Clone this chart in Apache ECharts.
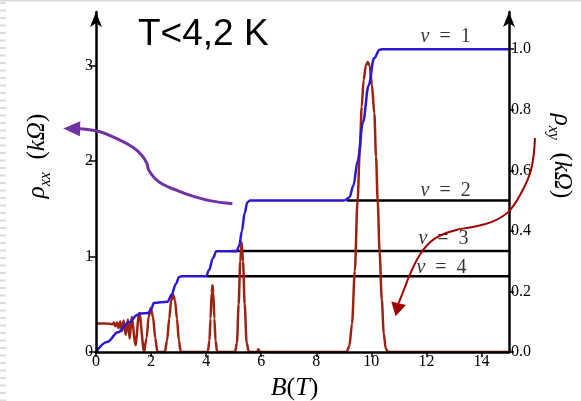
<!DOCTYPE html>
<html>
<head>
<meta charset="utf-8">
<script src="https://cdn.jsdelivr.net/npm/echarts@6/dist/echarts.min.js"></script>
<style>
html, body { margin: 0; padding: 0; background: #fff; }
#main { width: 581px; height: 401px; }
</style>
</head>
<body>
<div id="main"></div>
<script>
// magnetic field B (T) and Hall resistivity rho_xy (kOhm), right axis
const xyField = [0, 0.4, 0.8, 1.2, 1.5, 1.6, 1.9, 2.0, 2.1, 2.6, 2.75, 2.9, 3.02, 3.1, 4.0, 4.1, 4.25, 4.37, 4.5,
  5.1, 5.2, 5.3, 5.4, 5.5, 5.6, 9.0, 9.2, 9.35, 9.5, 9.7, 9.9, 10.1, 10.3, 10.4, 15];
const xyValue = [0, 0.033, 0.065, 0.098, 0.122, 0.127, 0.129, 0.14, 0.162, 0.166, 0.19, 0.225, 0.248, 0.25, 0.25, 0.27, 0.31, 0.333, 0.333,
  0.333, 0.35, 0.40, 0.46, 0.495, 0.5, 0.5, 0.51, 0.55, 0.63, 0.76, 0.88, 0.97, 0.998, 1.0, 1.0];

// longitudinal resistivity rho_xx (kOhm), left axis
const xxField = [0, 0.3, 0.5, 0.6, 0.65, 0.7, 0.76, 0.82, 0.88, 0.94, 1.0, 1.08, 1.16, 1.22, 1.3, 1.43, 1.57, 1.75,
  1.77, 1.84, 1.91, 1.99, 2.07, 2.15, 2.23,
  2.5, 2.58, 2.66, 2.73, 2.8, 2.87, 2.94, 3.01, 3.08,
  4.06, 4.12, 4.16, 4.2, 4.23, 4.26, 4.3, 4.34, 4.4,
  5.05, 5.12, 5.18, 5.24, 5.29, 5.34, 5.4, 5.47, 5.55,
  5.85, 5.9, 5.95,
  9.1, 9.2, 9.3, 9.4, 9.5, 9.58, 9.65, 9.72, 9.8, 9.87, 9.94, 10.02, 10.11, 10.17, 10.23, 10.3, 10.38, 10.45, 10.52, 10.6,
  15];
const xxValue = [0.30, 0.30, 0.295, 0.29, 0.31, 0.27, 0.31, 0.25, 0.32, 0.22, 0.33, 0.18, 0.34, 0.14, 0.37, 0.07, 0.41, 0.0,
  0.0, 0.15, 0.37, 0.46, 0.37, 0.15, 0.0,
  0.0, 0.12, 0.35, 0.54, 0.6, 0.54, 0.35, 0.12, 0.0,
  0.0, 0.12, 0.35, 0.62, 0.70, 0.62, 0.35, 0.12, 0.0,
  0.0, 0.1, 0.5, 0.95, 1.15, 0.95, 0.5, 0.1, 0.0,
  0.0, 0.03, 0.0,
  0.0, 0.06, 0.3, 0.85, 1.59, 2.1, 2.57, 2.85, 3.0, 3.04, 3.0, 2.8, 2.5, 2.05, 1.59, 1.05, 0.55, 0.2, 0.04, 0.0,
  0.0];

// filling factor plateaus
const nuNames = ['1', '2', '3', '4'];
const nuLevels = [1, 0.5, 1 / 3, 0.25];
const nuLineStart = [null, 9.1, 4.92, 4.03];
const nuLabelField = [12.7, 12.7, 12.62, 12.55];
const nuLabelGap = [2, 0, 2, -1];

// tick labels
const xTicks = [0, 2, 4, 6, 8, 10, 12, 14];
const leftTicks = [0, 1, 2, 3];
const rightTicks = [0, 0.2, 0.4, 0.6, 0.8, 1.0];

// annotation arrows, in (B, rho_xx) coordinates
const purpleArrowB = [4.953, 4.122, 3.398, 2.918, 2.422, 2.133, 1.916, 1.844, 1.663, 1.338, 0.795, 0.145, -0.578];
const purpleArrowR = [1.555, 1.587, 1.644, 1.696, 1.759, 1.822, 1.906, 1.979, 2.063, 2.147, 2.231, 2.308, 2.339];
const purpleArrowTip = [-1.193, 2.344];
const redArrowB = [15.944, 15.799, 15.437, 14.967, 14.353, 13.63, 13.051, 12.328, 11.822, 11.424, 11.135, 10.99];
const redArrowR = [2.242, 1.907, 1.665, 1.466, 1.361, 1.308, 1.277, 1.193, 1.046, 0.826, 0.616, 0.511];
const redArrowTip = [10.882, 0.375];

const serif = 'Liberation Serif';
const zip = (a, b) => a.map((v, i) => [v, b[i]]);

const nameRich = {
  i: { fontFamily: serif, fontStyle: 'italic', fontSize: 25, color: '#000', verticalAlign: 'bottom' },
  s: { fontFamily: serif, fontStyle: 'italic', fontSize: 16, color: '#000', verticalAlign: 'bottom', padding: [0, 0, -4, 0] },
  n: { fontFamily: serif, fontSize: 25, color: '#000', verticalAlign: 'bottom' }
};

const nuLineSeries = nuLevels.map((lvl, i) => nuLineStart[i] == null ? null : {
  type: 'line',
  yAxisIndex: 1,
  data: [[nuLineStart[i], lvl], [15, lvl]],
  symbol: 'none',
  lineStyle: { color: '#000', width: 2.5 },
  z: 2
}).filter(Boolean);

const option = {
  animation: false,
  backgroundColor: '#fff',
  title: {
    text: 'T<4,2 K',
    left: 138,
    top: 16,
    padding: 0,
    textStyle: { fontFamily: 'Liberation Sans', fontSize: 37, fontWeight: 'normal', color: '#000' }
  },
  grid: { left: 96, right: 72, top: 12, bottom: 49, containLabel: false, outerBoundsMode: 'none' },
  xAxis: {
    type: 'value',
    min: 0,
    max: 15,
    z: 10,
    splitLine: { show: false },
    axisLine: { show: true, lineStyle: { color: '#000', width: 2.5 } },
    axisTick: { show: true, customValues: xTicks, length: 5, lineStyle: { color: '#000', width: 1.5 } },
    axisLabel: { customValues: xTicks, color: '#000', fontFamily: serif, fontSize: 16, margin: 2 },
    name: '{i|B}{n|(}{i|T}{n|)}',
    nameLocation: 'middle',
    nameGap: 20,
    nameTextStyle: {
      padding: [0, 16, 0, 0],
      rich: {
        i: { fontFamily: serif, fontStyle: 'italic', fontSize: 26, color: '#000' },
        n: { fontFamily: serif, fontSize: 26, color: '#000' }
      }
    }
  },
  yAxis: [
    {
      type: 'value',
      position: 'left',
      min: 0,
      max: 3.564,
      z: 10,
      splitLine: { show: false },
      axisLine: { show: true, symbol: ['none', 'arrow'], symbolSize: [9, 15], lineStyle: { color: '#000', width: 2.5 } },
      axisTick: { show: true, customValues: leftTicks, length: 7, lineStyle: { color: '#000', width: 1.5 } },
      axisLabel: { customValues: leftTicks, color: '#000', fontFamily: serif, fontSize: 16, margin: 3 },
      name: '{i|ρ}{s|xx}{n|  (}{i|k}{i|Ω}{n|)}',
      nameLocation: 'middle',
      nameRotate: 90,
      nameGap: 46,
      nameTextStyle: { padding: [0, 0, 0, 52], rich: nameRich }
    },
    {
      type: 'value',
      position: 'right',
      min: 0,
      max: 1.123,
      z: 10,
      splitLine: { show: false },
      axisLine: { show: true, symbol: ['none', 'arrow'], symbolSize: [9, 15], lineStyle: { color: '#000', width: 2.5 } },
      axisTick: { show: true, customValues: rightTicks, length: 5, lineStyle: { color: '#000', width: 1.5 } },
      axisLabel: {
        customValues: rightTicks, color: '#000', fontFamily: serif, fontSize: 16, margin: 2,
        formatter: (v) => v.toFixed(1)
      },
      name: '{i|ρ}{s|xy}{n|  (}{i|k}{i|Ω}{n|)}',
      nameLocation: 'middle',
      nameRotate: -90,
      nameGap: 40,
      nameTextStyle: { padding: [0, 52, 0, 0], rich: nameRich }
    }
  ],
  series: [
    ...nuLineSeries,
    {
      name: 'rho_xx',
      type: 'line',
      yAxisIndex: 0,
      data: zip(xxField, xxValue),
      symbol: 'none',
      smooth: 0.3,
      smoothMonotone: 'x',
      lineStyle: { color: '#9e2210', width: 2.5 },
      z: 3
    },
    {
      name: 'rho_xy',
      type: 'line',
      yAxisIndex: 1,
      data: zip(xyField, xyValue),
      symbol: 'none',
      smooth: 0.35,
      smoothMonotone: 'x',
      lineStyle: { color: '#2d17d4', width: 2.5 },
      z: 4
    },
    {
      type: 'scatter',
      yAxisIndex: 1,
      symbolSize: 0,
      z: 5,
      data: nuLevels.map((lvl, i) => ({
        value: [nuLabelField[i], lvl],
        label: { distance: nuLabelGap[i] }
      })),
      label: {
        show: true,
        position: 'top',
        formatter: (p) => '{i|ν}{n|  =  ' + nuNames[p.dataIndex] + '}',
        rich: {
          i: { fontFamily: serif, fontStyle: 'italic', fontSize: 20, color: '#000' },
          n: { fontFamily: serif, fontSize: 20, color: '#000' }
        }
      }
    }
  ]
};

const chart = echarts.init(document.getElementById('main'));
chart.setOption(option);

const px = (b, r) => chart.convertToPixel({ xAxisIndex: 0, yAxisIndex: 0 }, [b, r]);
const arrowHead = (tip, base, halfW) => {
  const dx = tip[0] - base[0], dy = tip[1] - base[1];
  const len = Math.hypot(dx, dy);
  const nx = -dy / len * halfW, ny = dx / len * halfW;
  return [tip, [base[0] + nx, base[1] + ny], [base[0] - nx, base[1] - ny]];
};

const purplePts = purpleArrowB.map((b, i) => px(b, purpleArrowR[i]));
const redPts = redArrowB.map((b, i) => px(b, redArrowR[i]));
const purpleTip = px(purpleArrowTip[0], purpleArrowTip[1]);
const redTip = px(redArrowTip[0], redArrowTip[1]);

chart.setOption({
  graphic: [
    { type: 'line', shape: { x1: 0, y1: 0.5, x2: 581, y2: 0.5 }, style: { stroke: '#dcdcdc', lineWidth: 2 }, silent: true },
    { type: 'line', shape: { x1: 3, y1: 2, x2: 3, y2: 401 }, style: { stroke: '#dcdcdc', lineWidth: 6, lineDash: [2, 5.5] }, silent: true },
    { type: 'polyline', shape: { points: purplePts, smooth: 0.4 }, style: { stroke: '#7232a6', lineWidth: 3, fill: null }, z: 20 },
    { type: 'polygon', shape: { points: arrowHead(purpleTip, purplePts[purplePts.length - 1], 7.5) }, style: { fill: '#7232a6' }, z: 20 },
    { type: 'polyline', shape: { points: redPts, smooth: 0.4 }, style: { stroke: '#a00000', lineWidth: 2, fill: null }, z: 20 },
    { type: 'polygon', shape: { points: arrowHead(redTip, redPts[redPts.length - 1], 7.5) }, style: { fill: '#a00000' }, z: 20 }
  ]
});
</script>
</body>
</html>
